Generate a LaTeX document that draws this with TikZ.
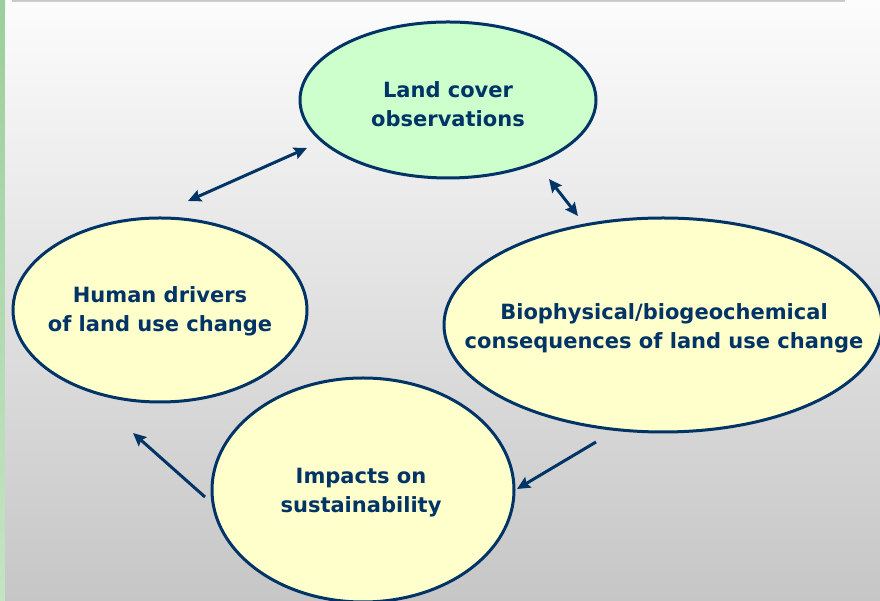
\documentclass[tikz,border=0pt]{standalone}
\usepackage{fontspec}
\setmainfont{DejaVu Sans}
\usetikzlibrary{arrows.meta}
\usetikzlibrary{shapes.geometric}
\definecolor{navy}{RGB}{0,51,102}
\definecolor{mint}{RGB}{204,255,204}
\definecolor{cream}{RGB}{255,255,204}
\definecolor{paneltop}{RGB}{252,252,252}
\definecolor{panelbot}{RGB}{198,198,198}
\definecolor{stripetop}{RGB}{156,206,156}
\definecolor{stripebot}{RGB}{196,228,196}
\definecolor{rim}{RGB}{200,200,200}
\tikzset{topic/.style = {draw=navy, ellipse, line width=3pt, inner sep=0}}
\tikzset{caption/.style = {text=navy, align=center, inner sep=0,
                           font=\fontsize{21}{29}\selectfont\bfseries}}
\tikzset{link/.style = {draw=navy, line width=3pt,
                        -{Stealth[length=13pt, width=12pt, inset=2pt]}}}
\tikzset{both/.style = {link, {Stealth[length=13pt, width=12pt, inset=2pt]}-{Stealth[length=13pt, width=12pt, inset=2pt]}}}

\begin{document}
\begin{tikzpicture}[x=1pt, y=1pt]
      \useasboundingbox (0, 0) rectangle (880, 601);
      % slide frame
      \fill [paneltop] (0, 0) rectangle (880, 601);
      \shade [top color=stripetop, bottom color=stripebot] (0, 0) rectangle (5, 601);
      \fill [rim] (12, 599) rectangle (845, 601);
      \shade [top color=paneltop, bottom color=panelbot]
            (5, 0) -- (5, 589) arc [start angle=180, end angle=90, radius=10] -- (880, 599) -- (880, 0) -- cycle;
      % the four topics
      \node [topic, fill=mint, minimum width=296, minimum height=156] (obs) at (448, 501) {};
      \node [topic, fill=cream, minimum width=294, minimum height=184] (drivers) at (160, 291) {};
      \node [topic, fill=cream, minimum width=438, minimum height=214] (bio) at (663, 276) {};
      \node [topic, fill=cream, minimum width=302, minimum height=224] (impacts) at (363, 111) {};
      \node [caption] (obsText) at (448, 497) {Land cover\\observations};
      \node [caption] (driversText) at (160, 290) {Human drivers\\of land use change};
      \node [caption] (bioText) at (664, 273) {Biophysical/biogeochemical\\consequences of land use change};
      \node [caption] (impactsText) at (361, 108) {Impacts on\\sustainability};
      % arrow ends
      \coordinate (drvTop) at (188, 400);
      \coordinate (obsLeft) at (307, 453);
      \coordinate (obsRight) at (549, 422);
      \coordinate (bioTop) at (578, 385);
      \coordinate (bioBot) at (596, 159);
      \coordinate (impRight) at (517, 112);
      \coordinate (impLeft) at (205, 104);
      \coordinate (drvBot) at (133, 168);
      \draw [both] (drvTop) -- (obsLeft);
      \draw [both] (obsRight) -- (bioTop);
      \draw [link] (bioBot) -- (impRight);
      \draw [link] (impLeft) -- (drvBot);
    \end{tikzpicture}
\end{document}
